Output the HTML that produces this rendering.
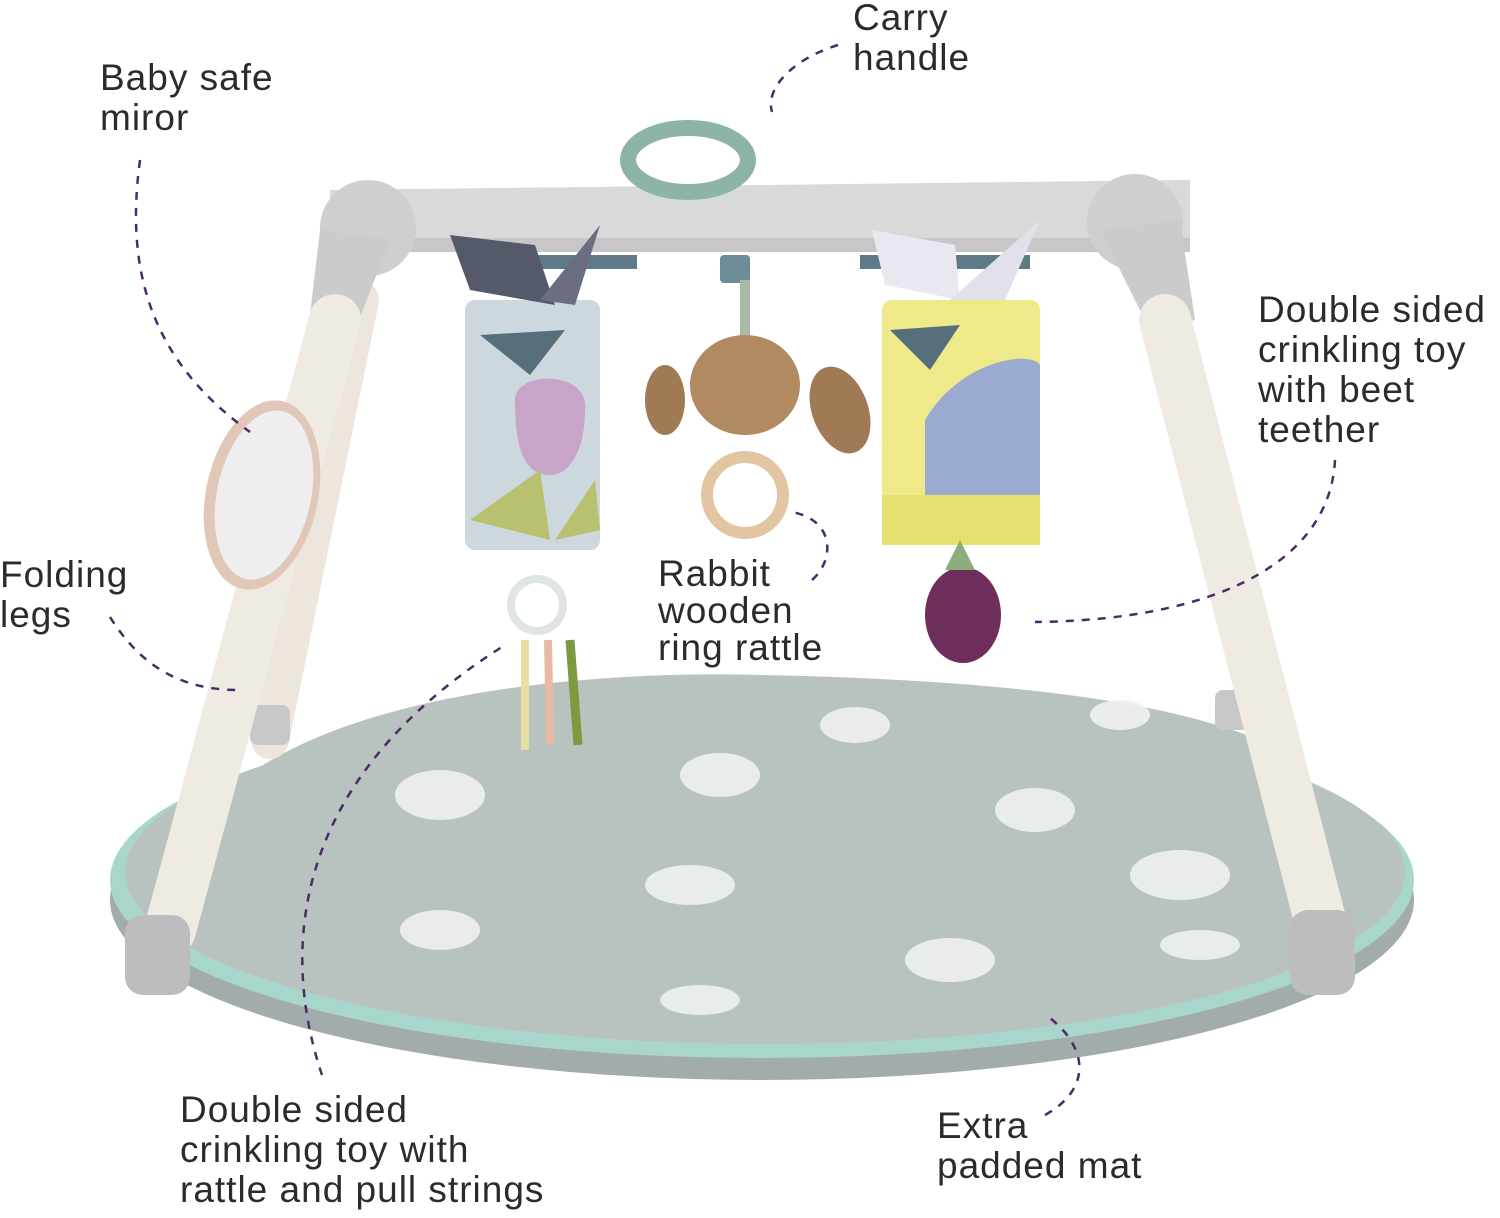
<!DOCTYPE html>
<html><head><meta charset="utf-8"><style>
html,body{margin:0;padding:0;background:#fff;}
body{width:1500px;height:1218px;position:relative;overflow:hidden;font-family:"Liberation Sans","DejaVu Sans",sans-serif;}
.l{position:absolute;font-size:37px;line-height:40px;color:#2b2b2b;white-space:nowrap;letter-spacing:1px;}
svg{position:absolute;left:0;top:0;}
</style></head><body>
<svg width="1500" height="1218" viewBox="0 0 1500 1218">
<!-- mat -->
<ellipse cx="762" cy="900" rx="652" ry="180" fill="#a3acad"/>
<ellipse cx="762" cy="880" rx="652" ry="178" fill="#a9d6cc"/>
<ellipse cx="765" cy="872" rx="640" ry="172" fill="#b8c3bf"/>
<path d="M200,820 C300,690 600,670 760,675 C1000,680 1200,700 1300,760 L1300,820 Z" fill="#b8c3bf"/>
<g fill="#eef1ef" opacity="0.9">
<ellipse cx="440" cy="795" rx="45" ry="25"/><ellipse cx="720" cy="775" rx="40" ry="22"/>
<ellipse cx="690" cy="885" rx="45" ry="20"/><ellipse cx="1035" cy="810" rx="40" ry="22"/>
<ellipse cx="1180" cy="875" rx="50" ry="25"/><ellipse cx="440" cy="930" rx="40" ry="20"/>
<ellipse cx="950" cy="960" rx="45" ry="22"/><ellipse cx="855" cy="725" rx="35" ry="18"/>
<ellipse cx="1200" cy="945" rx="40" ry="15"/><ellipse cx="1120" cy="715" rx="30" ry="15"/>
<ellipse cx="700" cy="1000" rx="40" ry="15"/>
</g>
<!-- back legs -->
<line x1="360" y1="300" x2="270" y2="740" stroke="#ece6dc" stroke-width="38" stroke-linecap="round"/>
<rect x="250" y="705" width="40" height="40" rx="8" fill="#c8c8c8"/>
<rect x="1215" y="690" width="40" height="40" rx="8" fill="#c8c8c8"/>
<!-- top bar -->
<path d="M330,190 L1190,180 L1190,245 L330,250 Z" fill="#d9d9d9"/>
<rect x="330" y="238" width="860" height="14" fill="#c7c7c7"/>
<circle cx="368" cy="228" r="48" fill="#cfcfcf"/>
<circle cx="1135" cy="222" r="48" fill="#cfcfcf"/>
<path d="M320,230 L390,240 L355,330 L310,315 Z" fill="#cbcbcb"/>
<path d="M1100,230 L1180,220 L1195,320 L1150,330 Z" fill="#cbcbcb"/>
<!-- front legs -->
<line x1="335" y1="320" x2="170" y2="930" stroke="#f0ebe2" stroke-width="52" stroke-linecap="round"/>
<line x1="1165" y1="320" x2="1320" y2="920" stroke="#f0ebe2" stroke-width="52" stroke-linecap="round"/>
<rect x="125" y="915" width="65" height="80" rx="18" fill="#bdbdbd"/>
<rect x="1290" y="910" width="65" height="85" rx="18" fill="#bdbdbd"/>
<!-- handle -->
<ellipse cx="688" cy="160" rx="60" ry="32" fill="none" stroke="#8db4a7" stroke-width="16"/>
<!-- hooks -->
<rect x="462" y="255" width="175" height="14" fill="#5d7a86"/>
<rect x="720" y="255" width="30" height="28" rx="4" fill="#6c8d98"/>
<rect x="860" y="255" width="170" height="14" fill="#5d7a86"/>
<!-- mirror -->
<ellipse cx="262" cy="495" rx="56" ry="96" transform="rotate(12 262 495)" fill="#e1c7b7"/>
<ellipse cx="264" cy="495" rx="47" ry="86" transform="rotate(12 264 495)" fill="#eeeeee"/>
<!-- left toy -->
<rect x="465" y="300" width="135" height="250" rx="10" fill="#ccd8dd"/>
<path d="M450,235 L535,245 L555,305 L470,290 Z" fill="#555a6a"/>
<path d="M540,300 L600,225 L575,305 Z" fill="#6a6e80"/>
<path d="M480,335 L565,330 L530,375 Z" fill="#566f7a"/>
<path d="M515,400 C515,370 590,370 585,410 C585,450 570,475 550,475 C525,475 515,450 515,400 Z" fill="#c9a4c9"/>
<path d="M470,520 L540,470 L550,540 Z" fill="#b9c070"/>
<path d="M555,540 L595,480 L600,530 Z" fill="#b9c070"/>
<!-- left rattle -->
<circle cx="537" cy="605" r="26" fill="none" stroke="#dfe5e7" stroke-width="8"/>
<line x1="525" y1="640" x2="525" y2="750" stroke="#e9dca5" stroke-width="8"/>
<line x1="548" y1="640" x2="550" y2="745" stroke="#e8b9a4" stroke-width="8"/>
<line x1="570" y1="640" x2="578" y2="745" stroke="#7d9a40" stroke-width="9"/>
<!-- rabbit -->
<line x1="745" y1="280" x2="745" y2="340" stroke="#aab8a8" stroke-width="10"/>
<ellipse cx="745" cy="385" rx="55" ry="50" fill="#b28a62"/>
<ellipse cx="665" cy="400" rx="20" ry="35" fill="#a07a55"/>
<ellipse cx="840" cy="410" rx="28" ry="45" fill="#a07a55" transform="rotate(-20 840 410)"/>
<circle cx="745" cy="495" r="38" fill="none" stroke="#e2c6a2" stroke-width="12"/>
<!-- right toy -->
<rect x="882" y="300" width="158" height="245" rx="10" fill="#eeea8a"/>
<path d="M925,420 C960,360 1030,350 1040,365 L1040,500 L925,500 Z" fill="#9aaad0"/>
<rect x="882" y="495" width="158" height="50" fill="#e6e070"/>
<path d="M872,230 L955,245 L960,300 L885,285 Z" fill="#e8e9f0"/>
<path d="M950,300 L1040,220 L1005,300 Z" fill="#e0e1ea"/>
<path d="M890,330 L960,325 L930,370 Z" fill="#566f7a"/>
<ellipse cx="963" cy="615" rx="38" ry="48" fill="#6e2e5c"/>
<path d="M945,570 L960,540 L975,570 Z" fill="#8aae7a"/>
</svg>
<svg width="1500" height="1218" viewBox="0 0 1500 1218" fill="none" stroke="#4e2a63" stroke-width="2.5" stroke-dasharray="8 8">
<path d="M140,160 C125,270 150,360 250,432"/>
<path d="M838,45 C790,60 765,90 772,112"/>
<path d="M1335,460 C1330,560 1220,620 1035,622"/>
<path d="M110,617 C140,665 180,690 238,690"/>
<path d="M812,580 C835,560 835,520 792,512"/>
<path d="M322,1075 C280,950 290,780 505,645"/>
<path d="M1045,1115 C1090,1090 1090,1050 1050,1018"/>
</svg>
<div class="l" style="left:100px;top:58px;">Baby safe<br>miror</div>
<div class="l" style="left:853px;top:-2px;">Carry<br>handle</div>
<div class="l" style="left:1258px;top:290px;">Double sided<br>crinkling toy<br>with beet<br>teether</div>
<div class="l" style="left:0px;top:555px;">Folding<br>legs</div>
<div class="l" style="left:658px;top:555px;line-height:37px;">Rabbit<br>wooden<br>ring rattle</div>
<div class="l" style="left:180px;top:1090px;">Double sided<br>crinkling toy with<br>rattle and pull strings</div>
<div class="l" style="left:937px;top:1106px;">Extra<br>padded mat</div>
</body></html>
